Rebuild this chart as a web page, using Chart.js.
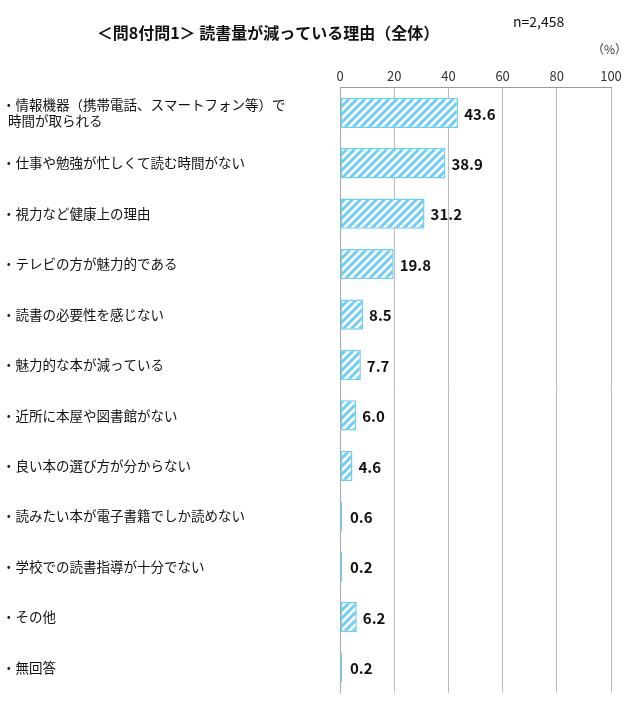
<!DOCTYPE html>
<html><head><meta charset="utf-8">
<script src="https://cdn.jsdelivr.net/npm/chart.js@4"></script>
<style>html,body{margin:0;padding:0;background:#fff;overflow:hidden}canvas{display:block}</style>
</head><body><canvas id="c" width="636" height="715" style="width:636px;height:715px"></canvas>
<script>
const categories = [
  ["・情報機器（携帯電話、スマートフォン等）で","  時間が取られる"],
  "・仕事や勉強が忙しくて読む時間がない",
  "・視力など健康上の理由",
  "・テレビの方が魅力的である",
  "・読書の必要性を感じない",
  "・魅力的な本が減っている",
  "・近所に本屋や図書館がない",
  "・良い本の選び方が分からない",
  "・読みたい本が電子書籍でしか読めない",
  "・学校での読書指導が十分でない",
  "・その他",
  "・無回答"
];
const values = [43.6, 38.9, 31.2, 19.8, 8.5, 7.7, 6.0, 4.6, 0.6, 0.2, 6.2, 0.2];
const xTicks = [0, 20, 40, 60, 80, 100];
const FONT = "'Noto Sans CJK JP','Noto Sans',sans-serif";

function hatch(){
  const p = document.createElement('canvas'); p.width = 8; p.height = 8;
  const g = p.getContext('2d');
  g.fillStyle = '#fff'; g.fillRect(0,0,8,8);
  g.strokeStyle = '#6fcdf5'; g.lineWidth = 3;
  g.beginPath();
  g.moveTo(-2,10); g.lineTo(10,-2);
  g.moveTo(-2,2); g.lineTo(2,-2);
  g.moveTo(6,10); g.lineTo(10,6);
  g.stroke();
  return document.getElementById('c').getContext('2d').createPattern(p,'repeat');
}

const deco = {
  id:'deco',
  afterDraw(ch){
    const c = ch.ctx; c.save();
    c.fillStyle = '#111'; c.textBaseline = 'middle';
    c.font = "bold 16px " + FONT; c.textAlign = 'center';
    c.fillText("＜問8付問1＞ 読書量が減っている理由（全体）", 268, 33);
    c.font = "14px " + FONT; c.textAlign = 'left';
    c.fillText("n=2,458", 513, 22);
    c.font = "12px " + FONT; c.fillStyle = '#333';
    c.fillText("（%）", 592, 49);
    const meta = ch.getDatasetMeta(0);
    c.font = "bold 15px " + FONT; c.fillStyle = '#111'; c.textAlign = 'left';
    meta.data.forEach((b,i)=>{
      const x = Math.max(b.x + 6, 350);
      c.fillText(values[i].toFixed(1), x, b.y + 1);
    });
    c.restore();
  }
};

new Chart(document.getElementById('c'), {
  type:'bar',
  data:{labels:categories, datasets:[{data:values, backgroundColor:hatch(), borderColor:'#6fcdf5', borderWidth:1.5, borderSkipped:false, minBarLength:2, barPercentage:0.6, categoryPercentage:1}]},
  options:{
    indexAxis:'y', responsive:false, animation:false,
    layout:{padding:{top:64, right:25, bottom:3, left:2}},
    plugins:{legend:{display:false}, tooltip:{enabled:false}},
    scales:{
      x:{position:'top', min:0, max:100, afterBuildTicks(a){a.ticks = xTicks.map(v=>({value:v}));},
        grid:{color:'#bbb', drawTicks:false}, border:{color:'#999'},
        ticks:{color:'#333', font:{size:13, family:FONT}, padding:4}},
      y:{grid:{display:false}, border:{color:'#aaa'}, afterFit(a){a.width = 338;},
        ticks:{crossAlign:'far', color:'#111', font:{size:13.5, family:FONT}, padding:6}}
    }
  },
  plugins:[deco]
});
</script></body></html>
